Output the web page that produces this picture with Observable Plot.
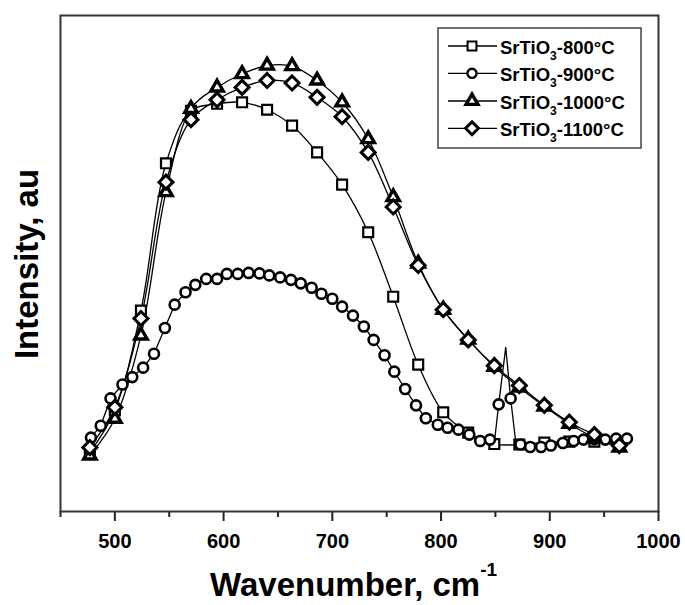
<!DOCTYPE html>
<html><head><meta charset="utf-8">
<script src="https://cdn.jsdelivr.net/npm/d3@7"></script>
<script src="https://cdn.jsdelivr.net/npm/@observablehq/plot@0.6"></script>
<style>
body{margin:0;background:#fff;}
#chart{width:685px;height:605px;}
</style></head><body><div id="chart"></div>
<script>
// ---- data (intensity in arbitrary units, 0..100 of the frame height) ----
const xTicks = [500, 600, 700, 800, 900, 1000];
const xMinorTicks = [450, 550, 650, 750, 850, 950];

const seriesNames = ["800°C", "900°C", "1000°C", "1100°C"];

// symbol positions shared by 800, 1000, 1100 °C
const markX = [477, 500, 524, 547, 570, 594, 617, 640, 663, 686, 709, 733, 756, 779, 802, 825, 849, 872, 895, 918, 941, 964];
const s800  = [11.9, 20.4, 40.5, 70.2, 80.8, 82.2, 82.5, 81.0, 77.8, 72.4, 65.9, 56.3, 43.3, 29.6, 20.0, 15.9, 13.6, 13.5, 13.9, 14.1, 14.1, 13.5];
const s1000 = [11.3, 18.7, 35.5, 64.4, 81.2, 85.5, 88.2, 89.9, 89.8, 86.9, 82.5, 75.1, 63.4, 50.0, 40.7, 34.7, 29.2, 25.0, 21.2, 17.7, 14.9, 12.9];
const s1100 = [12.9, 21.0, 38.9, 66.4, 79.0, 83.0, 85.5, 86.9, 86.4, 83.5, 79.6, 72.4, 61.4, 49.6, 40.7, 34.6, 29.4, 25.4, 21.4, 18.0, 15.5, 13.3];

// 900 °C symbols
const x900 = [478, 487, 496, 507, 516, 526, 536, 546, 555, 565, 574, 584, 594, 603, 613, 623, 633, 642, 652, 662, 671, 681, 690, 700, 709, 719, 729, 738, 748, 757, 767, 777, 786, 797, 806, 816, 826, 836, 845, 853, 864, 873, 882, 892, 901, 912, 922, 931, 941, 951, 961, 971];
const s900 = [14.9, 17.3, 22.8, 25.6, 27.1, 29.0, 31.8, 37.0, 41.7, 44.2, 45.7, 46.9, 46.9, 47.9, 47.9, 48.1, 48.0, 47.6, 47.2, 46.7, 46.0, 45.1, 43.9, 42.9, 41.3, 39.5, 37.3, 34.6, 31.5, 28.2, 24.7, 21.4, 18.8, 17.5, 16.9, 16.5, 15.5, 14.2, 14.5, 21.6, 22.8, 13.5, 13.0, 13.0, 13.3, 13.8, 14.2, 14.5, 14.6, 14.5, 14.7, 14.7];
// 900 °C line has a narrow spike near 860 between symbols
const spikeX = [849, 859.5, 869];
const spikeY = [13.8, 33.1, 13.4];

// ---- build tables ----
const pts = (xs, ys) => xs.map((x, i) => ({x, y: ys[i]}));
const d800 = pts(markX, s800), d1000 = pts(markX, s1000), d1100 = pts(markX, s1100);
const d900 = pts(x900, s900);
const d900line = d900.concat(pts(spikeX, spikeY)).sort((a, b) => a.x - b.x);

const FONT = '"Liberation Sans", Arial, Helvetica, sans-serif';
const lineOpt = {x: "x", y: "y", stroke: "#000", strokeWidth: 1.3};

const plot = Plot.plot({
  width: 685, height: 605,
  marginLeft: 60, marginRight: 27, marginTop: 15, marginBottom: 94,
  style: {fontFamily: FONT, background: "#fff", color: "#000", fontWeight: "bold"},
  x: {domain: [450, 1000]},
  y: {domain: [0, 100], axis: null},
  marks: [
    Plot.line(d800, {...lineOpt, curve: "catmull-rom"}),
    Plot.line(d900line, {...lineOpt, curve: "linear"}),
    Plot.line(d1000, {...lineOpt, curve: "catmull-rom"}),
    Plot.line(d1100, {...lineOpt, curve: "catmull-rom"}),
    Plot.dot(d800, {x: "x", y: "y", symbol: "square", r: 5.6, stroke: "#000", strokeWidth: 2.2, fill: "#fff"}),
    Plot.dot(d900, {x: "x", y: "y", symbol: "circle", r: 5.0, stroke: "#000", strokeWidth: 2.6, fill: "#fff"}),
    Plot.dot(d1000, {x: "x", y: "y", symbol: "triangle", r: 4.6, stroke: "#000", strokeWidth: 3.4, fill: "#fff"}),
    Plot.dot(d1100, {x: "x", y: "y", symbol: "diamond2", r: 6.3, stroke: "#000", strokeWidth: 3, fill: "#fff"}),
    Plot.axisX(xTicks, {tickSize: 10, tickPadding: 12, fontSize: 20, fontWeight: "bold", stroke: "#222", strokeWidth: 2, tickFormat: d => String(d), label: null}),
    Plot.axisX(xMinorTicks, {tickSize: 6, tickFormat: () => "", stroke: "#222", strokeWidth: 2, label: null}),
    Plot.frame({stroke: "#333", strokeWidth: 2})
  ]
});

document.getElementById("chart").appendChild(plot);

// ---- titles and legend ----
const svg = d3.select(plot);

const xt = svg.append("text")
  .attr("x", 210).attr("y", 596).attr("text-anchor", "start")
  .attr("font-family", FONT).attr("font-weight", "bold").attr("font-size", 33).attr("fill", "#000");
xt.append("tspan").text("Wavenumber, cm");
xt.append("tspan").attr("font-size", 19).attr("dy", -20).text("-1");

svg.append("text")
  .attr("transform", "translate(38,264) rotate(-90)")
  .attr("text-anchor", "middle")
  .attr("font-family", FONT).attr("font-weight", "bold").attr("font-size", 33).attr("fill", "#000")
  .text("Intensity, au");

const leg = svg.append("g");
leg.append("rect").attr("x", 438).attr("y", 28).attr("width", 203).attr("height", 120)
  .attr("fill", "#fff").attr("stroke", "#444").attr("stroke-width", 1.5);
const legSym = [
  {type: d3.symbolSquare, r: 5.0, sw: 2},
  {type: d3.symbolCircle, r: 4.6, sw: 2.4},
  {type: d3.symbolTriangle, r: 4.4, sw: 3.4},
  {type: d3.symbolDiamond2, r: 5.8, sw: 3}
];
const rowY = [46, 73.3, 101, 128.3];
seriesNames.forEach((name, i) => {
  const y = rowY[i];
  leg.append("line").attr("x1", 448).attr("x2", 497).attr("y1", y).attr("y2", y)
    .attr("stroke", "#000").attr("stroke-width", 1.3);
  leg.append("path")
    .attr("d", d3.symbol(legSym[i].type, Math.PI * legSym[i].r * legSym[i].r)())
    .attr("transform", `translate(472,${y})`)
    .attr("fill", "#fff").attr("stroke", "#000").attr("stroke-width", legSym[i].sw);
  const t = leg.append("text").attr("x", 500).attr("y", y + 8).attr("text-anchor", "start")
    .attr("font-family", FONT).attr("font-weight", "bold").attr("font-size", 18.5).attr("fill", "#000");
  t.append("tspan").text("SrTiO");
  t.append("tspan").attr("font-size", 12).attr("dy", 6).text("3");
  t.append("tspan").attr("dy", -6).text("-" + name);
});
</script></body></html>
